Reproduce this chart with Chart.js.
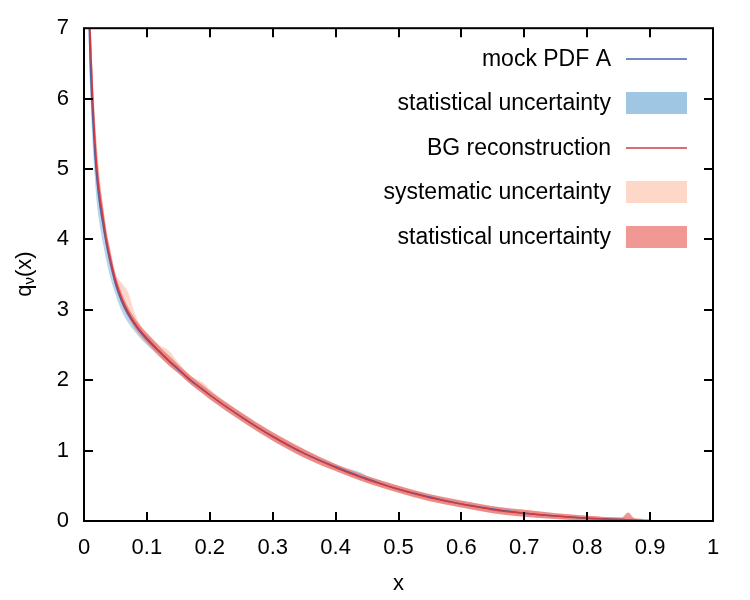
<!DOCTYPE html>
<html>
<head>
<meta charset="utf-8">
<title>q_nu(x) reconstruction</title>
<script src="https://cdn.jsdelivr.net/npm/chart.js@4.4.1/dist/chart.umd.min.js"></script>
<style>
  html, body { margin: 0; padding: 0; background: #fff; }
  #chart-div { width: 750px; height: 600px; }
</style>
</head>
<body>
<div id="chart-div"><canvas id="myChart"></canvas></div>
<script>
// x grid shared by every curve
const xValues = [0.008, 0.0095, 0.012, 0.014, 0.017, 0.02, 0.025, 0.03, 0.035, 0.04, 0.05, 0.06, 0.07, 0.08, 0.09, 0.1, 0.12, 0.135, 0.15, 0.17, 0.19, 0.2, 0.25, 0.3, 0.35, 0.4, 0.44, 0.45, 0.5, 0.55, 0.6, 0.65, 0.7, 0.75, 0.8, 0.855, 0.865, 0.875, 0.9]

// mock PDF A (blue line) and its statistical band
const mockPdf  = [7.1, 6.6, 6.05, 5.7, 5.25, 4.9, 4.5, 4.22, 3.96, 3.74, 3.37, 3.12, 2.94, 2.8, 2.68, 2.58, 2.4, 2.27, 2.15, 1.99, 1.86, 1.79, 1.48, 1.2, 0.96, 0.77, 0.63, 0.6, 0.45, 0.34, 0.24, 0.17, 0.11, 0.07, 0.04, 0.02, 0.015, 0.01, 0.0]
const mockLow  = [6.7, 6.2, 5.65, 5.3, 4.9, 4.55, 4.2, 3.95, 3.72, 3.52, 3.22, 2.98, 2.82, 2.7, 2.59, 2.5, 2.33, 2.21, 2.1, 1.94, 1.81, 1.74, 1.44, 1.16, 0.92, 0.73, 0.59, 0.56, 0.42, 0.31, 0.21, 0.14, 0.08, 0.05, 0.02, 0.005, 0.0, 0.0, 0.0]
const mockHigh = [7.3, 6.8, 6.2, 5.85, 5.38, 5.0, 4.6, 4.3, 4.03, 3.8, 3.43, 3.17, 2.98, 2.84, 2.72, 2.62, 2.44, 2.31, 2.19, 2.03, 1.9, 1.83, 1.52, 1.24, 1.0, 0.8, 0.69, 0.64, 0.49, 0.37, 0.27, 0.2, 0.14, 0.09, 0.06, 0.035, 0.03, 0.02, 0.01]

// BG reconstruction (red line), systematic and statistical bands
const bgRec    = [7.5, 7.0, 6.4, 5.95, 5.45, 5.05, 4.62, 4.32, 4.03, 3.8, 3.42, 3.16, 2.97, 2.82, 2.7, 2.6, 2.41, 2.28, 2.16, 2.0, 1.86, 1.79, 1.48, 1.2, 0.96, 0.76, 0.62, 0.59, 0.45, 0.33, 0.24, 0.16, 0.11, 0.07, 0.04, 0.02, 0.015, 0.01, 0.0]
const sysLow   = [7.2, 6.7, 6.1, 5.7, 5.2, 4.82, 4.45, 4.17, 3.9, 3.68, 3.33, 3.08, 2.9, 2.75, 2.63, 2.53, 2.34, 2.21, 2.1, 1.94, 1.8, 1.73, 1.42, 1.14, 0.9, 0.71, 0.57, 0.54, 0.4, 0.28, 0.19, 0.11, 0.06, 0.03, 0.005, 0.0, 0.0, 0.0, 0.0]
const sysHigh  = [7.9, 7.35, 6.75, 6.3, 5.8, 5.4, 4.9, 4.5, 4.17, 3.93, 3.52, 3.38, 3.25, 2.97, 2.78, 2.67, 2.5, 2.42, 2.25, 2.06, 1.96, 1.87, 1.54, 1.26, 1.02, 0.81, 0.67, 0.64, 0.5, 0.38, 0.29, 0.21, 0.16, 0.11, 0.075, 0.05, 0.05, 0.04, 0.025]
const statLow  = [7.2, 6.7, 6.1, 5.7, 5.2, 4.82, 4.45, 4.17, 3.9, 3.68, 3.33, 3.08, 2.9, 2.75, 2.63, 2.53, 2.34, 2.21, 2.1, 1.94, 1.8, 1.73, 1.42, 1.14, 0.9, 0.71, 0.57, 0.54, 0.4, 0.28, 0.19, 0.11, 0.06, 0.03, 0.005, 0.0, 0.0, 0.0, 0.0]
const statHigh = [7.8, 7.3, 6.7, 6.25, 5.72, 5.3, 4.8, 4.48, 4.16, 3.92, 3.51, 3.24, 3.04, 2.89, 2.77, 2.67, 2.48, 2.35, 2.22, 2.06, 1.92, 1.85, 1.54, 1.26, 1.02, 0.81, 0.67, 0.64, 0.5, 0.38, 0.29, 0.21, 0.16, 0.11, 0.075, 0.05, 0.12, 0.04, 0.025]

// Tick labels
const xTickLabels = ['0', '0.1', '0.2', '0.3', '0.4', '0.5', '0.6', '0.7', '0.8', '0.9', '1']
const yTickLabels = ['0', '1', '2', '3', '4', '5', '6', '7']

const FONT = "'Liberation Sans', Arial, sans-serif"

// Turn a y list into {x, y} points
function toPoints(ys){
    return xValues.map(function(x, i){ return {x: x, y: ys[i]} })
}

// Band dataset (upper edge, filled down to the next dataset)
function bandUpper(label, ys, fillColor, legendColor, rank, order){
    return {
        label: label, data: toPoints(ys), borderWidth: 0, pointRadius: 0,
        backgroundColor: fillColor, fill: '+1', order: order,
        cubicInterpolationMode: 'monotone',
        legendKind: 'box', legendColor: legendColor, legendRank: rank
    }
}
function bandLower(ys, order){
    return {
        data: toPoints(ys), borderWidth: 0, pointRadius: 0,
        backgroundColor: 'rgba(0,0,0,0)', fill: false, order: order,
        cubicInterpolationMode: 'monotone'
    }
}
function curve(label, ys, color, rank, order){
    return {
        label: label, data: toPoints(ys), borderColor: color, borderWidth: 1.5,
        pointRadius: 0, fill: false, order: order,
        cubicInterpolationMode: 'monotone',
        legendKind: 'line', legendColor: color, legendRank: rank
    }
}

// Frame, inner ticks, legend and y title
const framePlugin = {
    id: 'frame',
    afterDraw(chart){
        const ctx = chart.ctx
        const a = chart.chartArea
        const xs = chart.scales.x
        const ys = chart.scales.y
        ctx.save()
        ctx.strokeStyle = '#000'
        ctx.lineWidth = 2
        ctx.strokeRect(a.left, a.top, a.right - a.left, a.bottom - a.top)

        // inner ticks on all four sides
        const len = 9
        ctx.beginPath()
        for (let i=1; i<xTickLabels.length-1; i++){
            const px = Math.round(xs.getPixelForValue(i / 10))
            ctx.moveTo(px, a.bottom); ctx.lineTo(px, a.bottom - len)
            ctx.moveTo(px, a.top); ctx.lineTo(px, a.top + len)
        }
        for (let i=1; i<yTickLabels.length-1; i++){
            const py = Math.round(ys.getPixelForValue(i))
            ctx.moveTo(a.left, py); ctx.lineTo(a.left + len, py)
            ctx.moveTo(a.right, py); ctx.lineTo(a.right - len, py)
        }
        ctx.stroke()

        // legend, text on the left and key on the right
        const items = chart.data.datasets.filter(d => d.legendRank !== undefined)
            .sort((p, q) => p.legendRank - q.legendRank)
        const rowY = [59, 103, 148, 192, 237]
        ctx.font = '23px ' + FONT
        ctx.textAlign = 'right'
        ctx.textBaseline = 'middle'
        items.forEach(function(d, i){
            const y = rowY[i]
            ctx.fillStyle = '#000'
            ctx.fillText(d.label, 611, y + 1)
            if (d.legendKind === 'line'){
                ctx.strokeStyle = d.legendColor
                ctx.lineWidth = 1.5
                ctx.beginPath(); ctx.moveTo(626, y); ctx.lineTo(687, y); ctx.stroke()
            } else {
                ctx.fillStyle = d.legendColor
                ctx.fillRect(626, y - 11, 61, 22)
            }
        })

        // y axis title q_nu(x), rotated
        ctx.translate(25, 274)
        ctx.rotate(-Math.PI / 2)
        ctx.fillStyle = '#000'
        ctx.textAlign = 'left'
        ctx.textBaseline = 'middle'
        ctx.font = '22px ' + FONT
        const wq = ctx.measureText('q').width
        ctx.font = '15px ' + FONT
        const wn = ctx.measureText('\u03bd').width
        ctx.font = '22px ' + FONT
        const wx = ctx.measureText('(x)').width
        let x0 = -(wq + wn + wx) / 2
        ctx.fillText('q', x0, 0)
        ctx.font = '15px ' + FONT
        ctx.fillText('\u03bd', x0 + wq, 5)
        ctx.font = '22px ' + FONT
        ctx.fillText('(x)', x0 + wq + wn, 0)
        ctx.restore()
    }
}

const data = {
    datasets: [
        curve('BG reconstruction', bgRec, '#cf3a47', 3, 0),
        curve('mock PDF A', mockPdf, '#4565a8', 1, 1),
        bandUpper('statistical uncertainty', statHigh, 'rgba(232,112,108,0.72)', '#f09894', 5, 2),
        bandLower(statLow, 2),
        bandUpper('systematic uncertainty', sysHigh, 'rgba(252,205,188,0.8)', '#fdd7c8', 4, 3),
        bandLower(sysLow, 3),
        bandUpper('statistical uncertainty', mockHigh, 'rgba(158,200,228,0.75)', '#9fc7e3', 2, 4),
        bandLower(mockLow, 4)
    ]
}

const config = {
    type: 'line',
    data: data,
    options: {
        responsive: false,
        animation: false,
        layout: { padding: { left: 0, right: 37, top: 25, bottom: 0 } },
        plugins: { legend: { display: false }, tooltip: { enabled: false } },
        scales: {
            x: {
                type: 'linear', min: 0, max: 1,
                grid: { display: false, drawTicks: false },
                border: { display: false },
                ticks: {
                    stepSize: 0.1, padding: 14, color: '#000', maxRotation: 0,
                    font: { family: FONT, size: 22 },
                    callback: function(v, i){ return xTickLabels[i] }
                },
                title: { display: true, text: 'x', color: '#000', font: { family: FONT, size: 22 }, padding: { top: 0, bottom: 3 } },
                afterFit: function(scale){ scale.height = 79 }
            },
            y: {
                type: 'linear', min: 0, max: 7,
                grid: { display: false, drawTicks: false },
                border: { display: false },
                ticks: {
                    stepSize: 1, padding: 15, color: '#000',
                    font: { family: FONT, size: 22 },
                    callback: function(v, i){ return yTickLabels[i] }
                },
                afterFit: function(scale){ scale.width = 84 }
            }
        }
    },
    plugins: [framePlugin]
}

const canvas = document.getElementById('myChart')
canvas.width = 750
canvas.height = 600
const myChart = new Chart(canvas, config)
</script>
</body>
</html>
